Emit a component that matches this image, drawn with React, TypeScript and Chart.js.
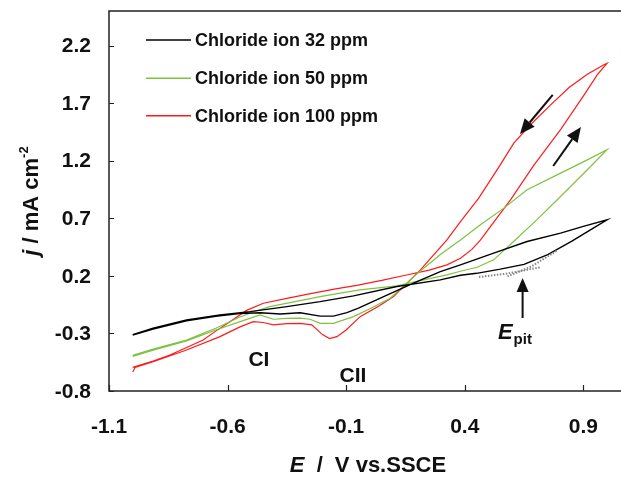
import { useEffect, useRef } from "react";
import { Chart, registerables } from "chart.js";

Chart.register(...registerables);

// ---- axis ticks ----
const xTicks = [-1.1, -0.6, -0.1, 0.4, 0.9];
const yTicks = [-0.8, -0.3, 0.2, 0.7, 1.2, 1.7, 2.2];

// ---- series labels ----
const seriesLabels = ["Chloride ion 32 ppm", "Chloride ion 50 ppm", "Chloride ion 100 ppm"];
const seriesColors = ["#000000", "#7fc241", "#ff1a1a"];

// ---- Chloride ion 32 ppm (forward then reverse scan) ----
const cl32E = [
  -1.0, -0.914, -0.773, -0.632, -0.506, -0.35, -0.21, -0.069, 0.114, 0.297, 0.382, 0.45, 0.55, 0.65, 0.75, 0.85, 0.93, 1.0,
  0.9, 0.804, 0.663, 0.522, 0.382, 0.297, 0.184, 0.058, -0.048, -0.097, -0.154, -0.21, -0.294, -0.378, -0.463, -0.55, -0.65, -0.773, -0.914, -1.0,
];
const cl32J = [
  -0.31, -0.255, -0.183, -0.139, -0.111, -0.067, -0.024, 0.026, 0.107, 0.165, 0.205, 0.222, 0.258, 0.3, 0.385, 0.5, 0.6, 0.686,
  0.63, 0.571, 0.498, 0.397, 0.295, 0.237, 0.136, 0.02, -0.081, -0.12, -0.15, -0.15, -0.12, -0.131, -0.12, -0.128, -0.152, -0.19, -0.262, -0.315,
];

// ---- Chloride ion 50 ppm ----
const cl50E = [
  -1.0, -0.914, -0.773, -0.65, -0.55, -0.49, -0.422, -0.3, -0.21, -0.1, -0.041, 0.114, 0.227, 0.325, 0.382, 0.452, 0.522, 0.607, 0.706, 0.804, 0.917, 1.0,
  0.9, 0.804, 0.663, 0.565, 0.466, 0.382, 0.3, 0.2, 0.128, 0.086, 0.0, -0.069, -0.154, -0.21, -0.252, -0.294, -0.35, -0.407, -0.463, -0.55, -0.65, -0.773, -0.914, -1.0,
];
const cl50J = [
  -0.49, -0.435, -0.357, -0.255, -0.16, -0.112, -0.067, -0.018, 0.02, 0.058, 0.078, 0.113, 0.165, 0.208, 0.24, 0.275, 0.339, 0.5, 0.69, 0.889, 1.121, 1.295,
  1.19, 1.092, 0.947, 0.788, 0.643, 0.512, 0.39, 0.22, 0.085, 0.006, -0.085, -0.154, -0.212, -0.212, -0.177, -0.168, -0.17, -0.177, -0.139, -0.2, -0.27, -0.365, -0.445, -0.5,
];

// ---- Chloride ion 100 ppm ----
const cl100E = [
  -1.0, -0.914, -0.843, -0.77, -0.703, -0.65, -0.59, -0.52, -0.449, -0.35, -0.25, -0.15, -0.05, 0.05, 0.15, 0.25, 0.325, 0.382, 0.43, 0.466, 0.52, 0.593, 0.691, 0.804, 0.9, 0.96, 1.0,
  0.987, 0.917, 0.84, 0.76, 0.677, 0.607, 0.545, 0.459, 0.382, 0.325, 0.213, 0.1, 0.04, -0.041, -0.1, -0.139, -0.17, -0.2, -0.245, -0.294, -0.35, -0.407, -0.45, -0.492, -0.55, -0.632, -0.773, -0.914, -0.99, -1.0,
];
const cl100J = [
  -0.595, -0.54, -0.487, -0.42, -0.357, -0.28, -0.198, -0.1, -0.038, 0.005, 0.045, 0.085, 0.12, 0.16, 0.205, 0.25, 0.295, 0.353, 0.43, 0.51, 0.66, 0.86, 1.16, 1.47, 1.76, 1.95, 2.045,
  2.033, 1.95, 1.835, 1.68, 1.512, 1.353, 1.149, 0.875, 0.671, 0.512, 0.252, 0.02, -0.06, -0.154, -0.27, -0.328, -0.345, -0.31, -0.226, -0.212, -0.215, -0.226, -0.205, -0.198, -0.245, -0.328, -0.444, -0.546, -0.595, -0.635,
];

// ---- dotted pitting traces near E_pit ----
const pitAE = [0.46, 0.58, 0.72];
const pitAJ = [0.19, 0.22, 0.275];
const pitBE = [0.58, 0.68, 0.79];
const pitBJ = [0.195, 0.28, 0.42];

// ---- annotations (data coordinates) ----
const epitArrow = { x: 0.644, y0: -0.166, y1: 0.182 };
const reverseArrow = { x0: 0.771, y0: 1.771, x1: 0.633, y1: 1.432 };
const forwardArrow = { x0: 0.773, y0: 1.154, x1: 0.89, y1: 1.493 };
const peakLabels = [
  { text: "CI", x: -0.468, y: -0.531 },
  { text: "CII", x: -0.071, y: -0.67 },
];
const epitLabel = { x: 0.54, y: -0.348 };

const pts = (e: number[], j: number[]) => e.map((x, i) => ({ x, y: j[i] }));

const FONT = '"Liberation Sans", Arial, sans-serif';

const decor = {
  id: "decor",
  afterDatasetsDraw(chart: any) {
    const { ctx, chartArea: a, scales } = chart;
    const xs = scales.x;
    const ys = scales.y;
    const X = (v: number) => xs.getPixelForValue(v);
    const Y = (v: number) => ys.getPixelForValue(v);
    ctx.save();
    // frame
    ctx.strokeStyle = "#222";
    ctx.lineWidth = 1.5;
    ctx.strokeRect(a.left, a.top, a.right - a.left, a.bottom - a.top);
    // inward ticks
    ctx.lineWidth = 1.2;
    ctx.beginPath();
    xTicks.forEach((v) => {
      const p = Math.round(X(v)) + 0.5;
      ctx.moveTo(p, a.bottom);
      ctx.lineTo(p, a.bottom - 6);
    });
    yTicks.forEach((v) => {
      const p = Math.round(Y(v)) + 0.5;
      ctx.moveTo(a.left, p);
      ctx.lineTo(a.left + 5, p);
    });
    ctx.stroke();

    ctx.fillStyle = "#111";
    // tick labels
    ctx.font = `bold 21px ${FONT}`;
    ctx.textAlign = "center";
    ctx.textBaseline = "middle";
    xTicks.forEach((v) => ctx.fillText(v.toFixed(1), X(v), a.bottom + 36));
    ctx.textAlign = "right";
    yTicks.forEach((v) => ctx.fillText(v.toFixed(1), a.left - 18, Y(v) + 1));

    // x title: E / V vs.SSCE
    ctx.textAlign = "left";
    ctx.textBaseline = "alphabetic";
    const rest = "V vs.SSCE";
    ctx.font = `bold 22px ${FONT}`;
    const wRest = ctx.measureText(rest).width;
    const totalX = 44 + wRest;
    const cx = (a.left + a.right) / 2;
    const x0 = cx - totalX / 2;
    const by = a.bottom + 81;
    ctx.font = `italic bold 22px ${FONT}`;
    ctx.fillText("E", x0, by);
    ctx.font = `bold 22px ${FONT}`;
    ctx.fillText("/", x0 + 27, by);
    ctx.fillText(rest, x0 + 45, by);

    // y title: j / mA cm-2 (rotated)
    ctx.save();
    const cy = (a.top + a.bottom) / 2;
    ctx.font = `italic bold 22px ${FONT}`;
    const wj = ctx.measureText("j").width;
    ctx.font = `bold 22px ${FONT}`;
    const mid = " / mA cm";
    const wm = ctx.measureText(mid).width;
    ctx.font = `bold 13px ${FONT}`;
    const ws = ctx.measureText("-2").width;
    const totalY = wj + wm + ws;
    ctx.translate(38, cy + totalY / 2);
    ctx.rotate(-Math.PI / 2);
    ctx.font = `italic bold 22px ${FONT}`;
    ctx.fillText("j", 0, 0);
    ctx.font = `bold 22px ${FONT}`;
    ctx.fillText(mid, wj, 0);
    ctx.font = `bold 13px ${FONT}`;
    ctx.fillText("-2", wj + wm, -10);
    ctx.restore();

    // legend
    const rows = [29, 67.3, 104.7];
    ctx.font = `bold 18px ${FONT}`;
    ctx.textBaseline = "middle";
    seriesLabels.forEach((lab, i) => {
      const yy = a.top + rows[i];
      ctx.strokeStyle = seriesColors[i];
      ctx.lineWidth = 1.5;
      ctx.beginPath();
      ctx.moveTo(a.left + 37, yy);
      ctx.lineTo(a.left + 82, yy);
      ctx.stroke();
      ctx.fillStyle = "#111";
      ctx.fillText(lab, a.left + 86, yy + 1);
    });

    // peak labels
    ctx.font = `bold 21px ${FONT}`;
    ctx.textAlign = "center";
    peakLabels.forEach((p) => ctx.fillText(p.text, X(p.x), Y(p.y)));

    // E_pit label
    ctx.textAlign = "left";
    ctx.textBaseline = "alphabetic";
    ctx.font = `italic bold 22px ${FONT}`;
    const ex = X(epitLabel.x);
    const ey = Y(epitLabel.y);
    ctx.fillText("E", ex, ey);
    const we = ctx.measureText("E").width;
    ctx.font = `bold 15px ${FONT}`;
    ctx.fillText("pit", ex + we + 1, ey + 5);

    // arrows
    const arrow = (x1: number, y1: number, x2: number, y2: number, head: number, half: number) => {
      const ang = Math.atan2(y2 - y1, x2 - x1);
      const bx = x2 - head * Math.cos(ang);
      const byy = y2 - head * Math.sin(ang);
      ctx.strokeStyle = "#111";
      ctx.lineWidth = 2;
      ctx.beginPath();
      ctx.moveTo(x1, y1);
      ctx.lineTo(bx, byy);
      ctx.stroke();
      ctx.fillStyle = "#111";
      ctx.beginPath();
      ctx.moveTo(x2, y2);
      ctx.lineTo(bx + half * Math.sin(ang), byy - half * Math.cos(ang));
      ctx.lineTo(bx - half * Math.sin(ang), byy + half * Math.cos(ang));
      ctx.closePath();
      ctx.fill();
    };
    arrow(X(epitArrow.x), Y(epitArrow.y0), X(epitArrow.x), Y(epitArrow.y1), 14, 6);
    arrow(X(reverseArrow.x0), Y(reverseArrow.y0), X(reverseArrow.x1), Y(reverseArrow.y1), 15, 6.5);
    arrow(X(forwardArrow.x0), Y(forwardArrow.y0), X(forwardArrow.x1), Y(forwardArrow.y1), 15, 6.5);

    ctx.restore();
  },
};

export default function App() {
  const ref = useRef<HTMLCanvasElement | null>(null);
  useEffect(() => {
    if (!ref.current) return;
    const mk = (label: string, e: number[], j: number[], color: string, width: number, dash?: number[]) => ({
      label,
      data: pts(e, j),
      borderColor: color,
      backgroundColor: color,
      borderWidth: width,
      borderDash: dash || [],
      pointRadius: 0,
      fill: false,
      tension: 0,
    });
    const chart = new Chart(ref.current, {
      type: "line",
      data: {
        datasets: [
          mk("pitA", pitAE, pitAJ, "#888", 2, [1.5, 1.5]),
          mk("pitB", pitBE, pitBJ, "#888", 2, [1.5, 1.5]),
          mk(seriesLabels[0], cl32E, cl32J, seriesColors[0], 1.4),
          mk(seriesLabels[1], cl50E, cl50J, seriesColors[1], 1.2),
          mk(seriesLabels[2], cl100E, cl100J, seriesColors[2], 1.2),
        ],
      },
      options: {
        animation: false,
        responsive: false,
        maintainAspectRatio: false,
        devicePixelRatio: 1,
        layout: { padding: { left: 109, top: 11, right: 0, bottom: 86 } },
        plugins: { legend: { display: false }, tooltip: { enabled: false } },
        scales: {
          x: { type: "linear", min: -1.1, max: 1.08, display: false },
          y: { type: "linear", min: -0.8, max: 2.5, display: false },
        },
        elements: { point: { radius: 0 }, line: { tension: 0 } },
      },
      plugins: [decor],
    } as any);
    return () => chart.destroy();
  }, []);
  return (
    <div
      style={{
        position: "fixed",
        left: 0,
        top: 0,
        width: 621,
        height: 477,
        overflow: "hidden",
        background: "#fff",
      }}
    >
      <canvas ref={ref} width={626} height={477} style={{ width: 626, height: 477, display: "block" }} />
    </div>
  );
}
